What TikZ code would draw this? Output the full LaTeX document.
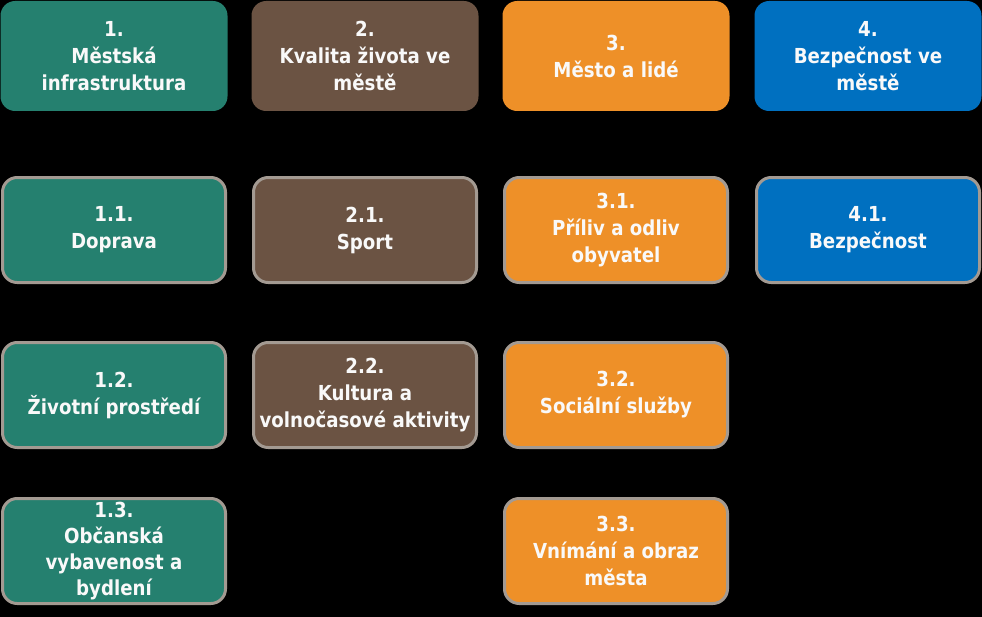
\documentclass[tikz,border=0pt]{standalone}
\usepackage{fontspec}
\setmainfont{DejaVu Sans}[FakeStretch=0.88]
\usepackage{tikz}
\definecolor{infra}{HTML}{25806F}
\definecolor{kvalita}{HTML}{6B5343}
\definecolor{lide}{HTML}{EE9028}
\definecolor{bezpec}{HTML}{0070C0}
\definecolor{frame}{HTML}{A39A92}
\begin{document}
\begin{tikzpicture}[x=0.75pt,y=-0.75pt]
      \tikzset{box/.style = {shape=rectangle,rounded corners=11pt,align=center,inner sep=0pt,
          text=white!95!gray,font=\bfseries\fontsize{15.5}{20.25}\selectfont,
          minimum width=170.25pt,minimum height=82.5pt}}
      \tikzset{sub/.style = {box,draw=frame,line width=2.25pt,
          minimum width=167.25pt,minimum height=78.75pt}}
      \fill[black] (0,0) rectangle (982,617);
      \useasboundingbox (0,0) rectangle (982,617);

      \node[box,fill=infra] (1) at (114,56) {1.\\Městská\\infrastruktura};
      \node[box,fill=kvalita] (2) at (365,56) {2.\\Kvalita života ve\\městě};
      \node[box,fill=lide] (3) at (616,56) {3.\\Město a lidé};
      \node[box,fill=bezpec] (4) at (868,56) {4.\\Bezpečnost ve\\městě};

      \node[sub,fill=infra] (11) at (114,230) {1.1.\\Doprava};
      \node[sub,fill=infra] (12) at (114,395) {1.2.\\Životní prostředí};
      \node[sub,fill=infra,font=\bfseries\fontsize{15.5}{19.5}\selectfont] (13) at (114,551) {1.3.\\Občanská\\vybavenost a\\bydlení};

      \node[sub,fill=kvalita] (21) at (365,230) {2.1.\\Sport};
      \node[sub,fill=kvalita] (22) at (365,395) {2.2.\\Kultura a\\volnočasové aktivity};

      \node[sub,fill=lide] (31) at (616,230) {3.1.\\Příliv a odliv\\obyvatel};
      \node[sub,fill=lide] (32) at (616,395) {3.2.\\Sociální služby};
      \node[sub,fill=lide] (33) at (616,551) {3.3.\\Vnímání a obraz\\města};

      \node[sub,fill=bezpec] (41) at (868,230) {4.1.\\Bezpečnost};
    \end{tikzpicture}
\end{document}
